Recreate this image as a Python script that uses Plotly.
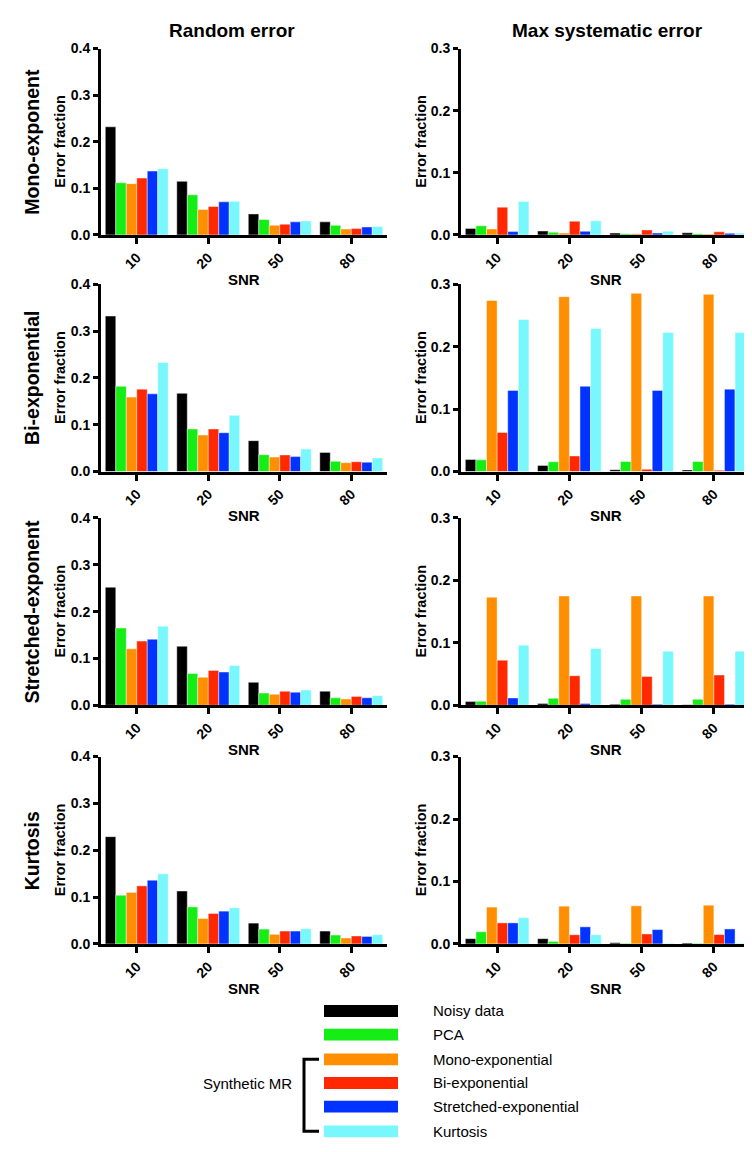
import plotly.graph_objects as go
from plotly.subplots import make_subplots

W, H = 752, 1152

snr = ["10", "20", "50", "80"]
methods = ["Noisy data", "PCA", "Mono-exponential", "Bi-exponential",
           "Stretched-exponential", "Kurtosis"]
colors = ["#000000", "#14EE14", "#FF8E00", "#FF2800", "#0033FF", "#78F8FC"]

row_labels = ["Mono-exponent", "Bi-exponential", "Stretched-exponent", "Kurtosis"]
col_titles = ["Random error", "Max systematic error"]

# each panel: 6 method rows x 4 SNR values
rand_mono = [[0.232, 0.115, 0.045, 0.028],
             [0.112, 0.086, 0.033, 0.0205],
             [0.110, 0.0545, 0.0205, 0.0127],
             [0.122, 0.061, 0.023, 0.0135],
             [0.137, 0.071, 0.028, 0.017],
             [0.142, 0.072, 0.030, 0.018]]
sys_mono = [[0.0105, 0.0063, 0.003, 0.0035],
            [0.0147, 0.0042, 0.002, 0.002],
            [0.0095, 0.003, 0.002, 0.0015],
            [0.0447, 0.022, 0.008, 0.005],
            [0.0053, 0.0058, 0.003, 0.0025],
            [0.0537, 0.0226, 0.006, 0.003]]
rand_bi = [[0.332, 0.167, 0.066, 0.041],
           [0.182, 0.091, 0.036, 0.022],
           [0.159, 0.078, 0.031, 0.019],
           [0.176, 0.091, 0.0356, 0.021],
           [0.166, 0.083, 0.032, 0.020],
           [0.233, 0.120, 0.048, 0.029]]
sys_bi = [[0.0193, 0.0099, 0.003, 0.0026],
          [0.0188, 0.0157, 0.0162, 0.0162],
          [0.274, 0.280, 0.2854, 0.2838],
          [0.0627, 0.025, 0.0037, 0.002],
          [0.130, 0.1366, 0.130, 0.132],
          [0.2436, 0.229, 0.2227, 0.2227]]
rand_str = [[0.252, 0.126, 0.049, 0.030],
            [0.165, 0.068, 0.026, 0.016],
            [0.1206, 0.060, 0.0234, 0.0135],
            [0.137, 0.0745, 0.030, 0.019],
            [0.141, 0.071, 0.028, 0.016],
            [0.169, 0.085, 0.0326, 0.0206]]
sys_str = [[0.0059, 0.0027, 0.0016, 0.001],
           [0.0064, 0.0112, 0.0096, 0.0096],
           [0.173, 0.175, 0.175, 0.175],
           [0.0723, 0.0473, 0.0463, 0.0484],
           [0.0117, 0.0027, 0.0016, 0.0016],
           [0.0963, 0.091, 0.0867, 0.0867]]
rand_kurt = [[0.229, 0.113, 0.0444, 0.0275],
             [0.104, 0.079, 0.0317, 0.019],
             [0.110, 0.0543, 0.0205, 0.0127],
             [0.124, 0.065, 0.0275, 0.017],
             [0.136, 0.070, 0.0275, 0.016],
             [0.1496, 0.077, 0.0325, 0.0198]]
sys_kurt = [[0.0084, 0.0084, 0.002, 0.0015],
            [0.0195, 0.004, 0.001, 0.001],
            [0.059, 0.0605, 0.061, 0.062],
            [0.0337, 0.0147, 0.016, 0.015],
            [0.0337, 0.0274, 0.023, 0.024],
            [0.042, 0.0147, 0.001, 0.001]]

panels = [[rand_mono, sys_mono], [rand_bi, sys_bi],
          [rand_str, sys_str], [rand_kurt, sys_kurt]]
ymax = [0.4, 0.3]

FONT = "Liberation Sans, Arial, sans-serif"

# layout geometry in pixels
col_x = [(93, 379), (453, 742)]
row_y = [(33, 222), (272, 462), (509, 699), (751, 941)]


def fx(px):
    return px / W


def fy(py):
    return 1 - py / H


fig = make_subplots(rows=4, cols=2)

for r in range(4):
    for c in range(2):
        data = panels[r][c]
        for m in range(6):
            fig.add_trace(go.Bar(x=snr, y=data[m], name=methods[m],
                                 marker=dict(color=colors[m],
                                             line=dict(color="rgba(255,255,255,0.55)", width=0.8)),
                                 showlegend=False),
                          row=r + 1, col=c + 1)
        idx = r * 2 + c + 1
        sfx = "" if idx == 1 else str(idx)
        x0, x1 = col_x[c]
        y0, y1 = row_y[r]
        nt = 5 if c == 0 else 4
        tv = [i * 0.1 for i in range(nt)]
        fig.update_layout(**{
            "xaxis" + sfx: dict(domain=[fx(x0), fx(x1)], type="category",
                                showline=True, linewidth=3, linecolor="black",
                                ticks="outside", ticklen=6, tickwidth=2.5, tickcolor="black",
                                tickangle=-45, showgrid=False, zeroline=False,
                                tickfont=dict(family=FONT, size=14, color="black", weight="bold")),
            "yaxis" + sfx: dict(domain=[fy(y1), fy(y0)], range=[0, ymax[c]],
                                showline=True, linewidth=3, linecolor="black",
                                ticks="outside", ticklen=5, tickwidth=2.5, tickcolor="black",
                                tickvals=tv, ticktext=["%.1f" % v for v in tv],
                                showgrid=False, zeroline=False,
                                tickfont=dict(family=FONT, size=14, color="black", weight="bold")),
        })

annotations = []
# column titles
for c in range(2):
    annotations.append(dict(text=col_titles[c], x=fx((col_x[c][0] + col_x[c][1]) / 2 - 12 if c == 0 else 599),
                            y=fy(15), xref="paper", yref="paper", showarrow=False,
                            xanchor="center", yanchor="middle",
                            font=dict(family=FONT, size=19, color="black", weight="bold")))
for r in range(4):
    y0, y1 = row_y[r]
    yc = (y0 + y1) / 2
    annotations.append(dict(text=row_labels[r], x=fx(24), y=fy(yc), xref="paper", yref="paper",
                            showarrow=False, textangle=-90, xanchor="center", yanchor="middle",
                            font=dict(family=FONT, size=19.5, color="black", weight="bold")))
    for c in range(2):
        xt = 52 if c == 0 else 413
        annotations.append(dict(text="Error fraction", x=fx(xt), y=fy(yc), xref="paper", yref="paper",
                                showarrow=False, textangle=-90, xanchor="center", yanchor="middle",
                                font=dict(family=FONT, size=14.5, color="black", weight="bold")))
        x0, x1 = col_x[c]
        annotations.append(dict(text="SNR", x=fx((x0 + x1) / 2), y=fy(y1 + 45), xref="paper", yref="paper",
                                showarrow=False, xanchor="center", yanchor="middle",
                                font=dict(family=FONT, size=15, color="black", weight="bold")))

# legend
leg_y = [1009, 1033, 1058, 1082, 1106, 1131]
shapes = []
for i in range(6):
    shapes.append(dict(type="rect", xref="paper", yref="paper",
                       x0=fx(316), x1=fx(390), y0=fy(leg_y[i] + 6), y1=fy(leg_y[i] - 6),
                       fillcolor=colors[i], line=dict(width=0)))
    annotations.append(dict(text=methods[i], x=fx(423), y=fy(leg_y[i]), xref="paper", yref="paper",
                            showarrow=False, xanchor="left", yanchor="middle",
                            font=dict(family=FONT, size=15, color="black")))
# bracket
shapes.append(dict(type="path", xref="paper", yref="paper",
                   path="M %f %f L %f %f L %f %f L %f %f" % (fx(311), fy(1058), fx(296), fy(1058),
                                                             fx(296), fy(1131), fx(311), fy(1131)),
                   line=dict(color="black", width=3)))
annotations.append(dict(text="Synthetic MR", x=fx(286), y=fy(1083), xref="paper", yref="paper",
                        showarrow=False, xanchor="right", yanchor="middle",
                        font=dict(family=FONT, size=15, color="black")))

fig.update_layout(width=W, height=H, margin=dict(l=0, r=0, t=0, b=0),
                  paper_bgcolor="white", plot_bgcolor="white",
                  barmode="group", bargap=0.12, bargroupgap=0,
                  showlegend=False, annotations=annotations, shapes=shapes,
                  font=dict(family=FONT, color="black"))

fig.write_html("out.html")
